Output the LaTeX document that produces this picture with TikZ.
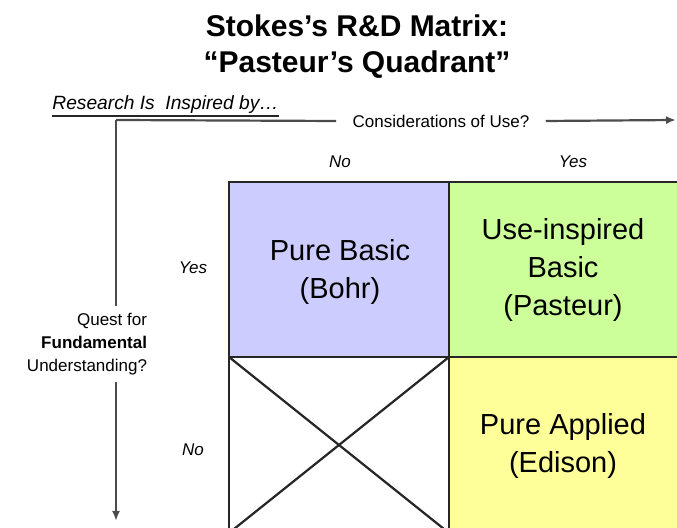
\documentclass[tikz,border=0pt]{standalone}
\usepackage{fontspec}
\setmainfont{Liberation Sans}
\usetikzlibrary{arrows.meta}
\definecolor{basicblue}{HTML}{CCCCFF}
\definecolor{usegreen}{HTML}{CCFF99}
\definecolor{appliedyellow}{HTML}{FFFF99}
\tikzset{
    axis/.style={black!70,line width=1.1pt},
    cell/.style={black!85,line width=1.1pt},
    celltext/.style={align=center,font=\fontsize{14.5}{19}\selectfont},
    titletext/.style={anchor=base,inner sep=0pt,font=\fontsize{15}{18}\selectfont\bfseries},
    small/.style={font=\fontsize{8.5}{11.5}\selectfont},
    tick/.style={font=\fontsize{8.5}{11}\selectfont\itshape}
}
\begin{document}
\begin{tikzpicture}[x=0.5pt,y=-0.5pt]
    \useasboundingbox (0,0) rectangle (677,528);
    \clip (0,0) rectangle (677,528);

    \node[titletext] (title) at (357,37) {Stokes's R\&D Matrix:};
    \node[titletext] (subtitle) at (357,73) {``Pasteur's Quadrant''};

    \filldraw[cell,fill=basicblue] (229,182) rectangle (449,357);
    \filldraw[cell,fill=usegreen] (449,182) rectangle (700,357);
    \filldraw[cell,fill=appliedyellow] (449,357) rectangle (700,560);
    \draw[cell] (229,357) rectangle (449,533);
    \draw[cell] (229,357) -- (449,533);
    \draw[cell] (449,357) -- (229,533);

    \node[celltext] (bohr) at (340,272) {Pure Basic\\(Bohr)};
    \node[celltext] (pasteur) at (563,270) {Use-inspired\\Basic\\(Pasteur)};
    \node[celltext] (edison) at (563,446) {Pure Applied\\(Edison)};

    \node[anchor=base west,inner sep=0pt,font=\fontsize{9.6}{11}\selectfont\itshape] (research) at (52,110) {Research Is\ \ Inspired by\ldots};
    \draw[black!85,line width=1pt] ([yshift=-3pt]research.base west) -- ([yshift=-3pt]research.base east);
    \coordinate (corner) at (116,120);
    \coordinate (useend) at (676,120);
    \coordinate (questend) at (116,521);
    \node[small,inner xsep=8pt] (use) at (441,121) {Considerations of Use?};
    \node[small,align=right] (quest) at (87,344) {Quest for\\\textbf{Fundamental}\\Understanding?};

    \draw[axis] (corner) -- (use.west);
    \draw[axis,-{Latex[length=5pt,width=4pt]}] (use.east) -- (useend);
    \draw[axis] (corner) -- (corner|-quest.north);
    \draw[axis,-{Latex[length=5pt,width=4pt]}] (corner|-quest.south) -- (questend);

    \node[tick] (colno) at (340,162) {No};
    \node[tick] (colyes) at (573,162) {Yes};
    \node[tick] (rowyes) at (193,268) {Yes};
    \node[tick] (rowno) at (193,450) {No};
\end{tikzpicture}
\end{document}
